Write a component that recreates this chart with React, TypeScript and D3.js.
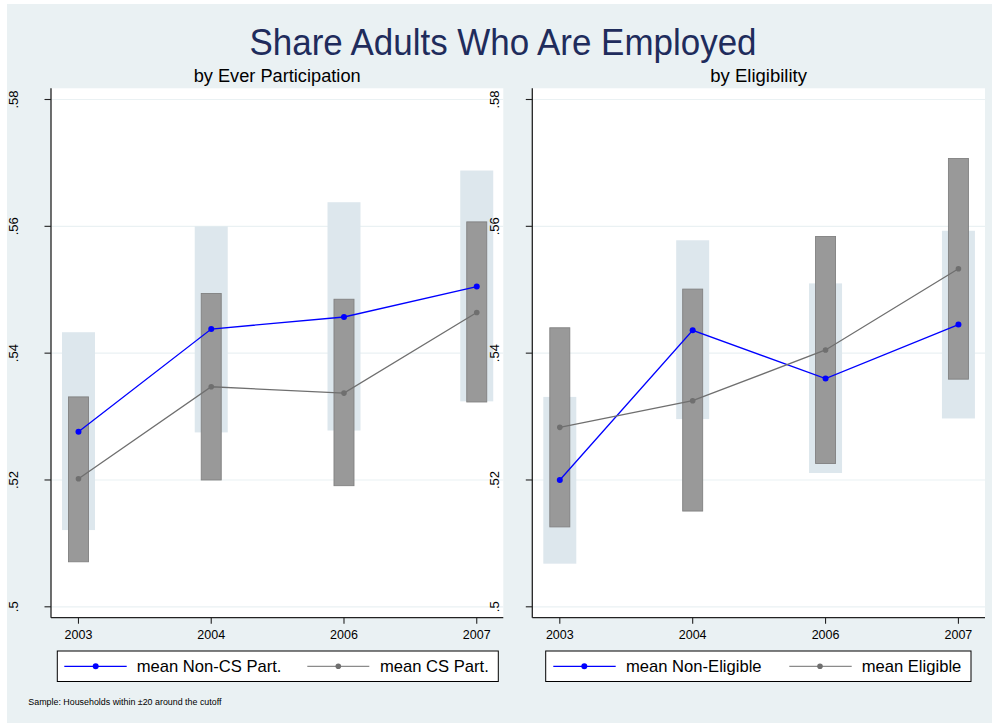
import React from "react";
import * as d3 from "d3";

const years = ["2003", "2004", "2006", "2007"];
const yTicks = [0.5, 0.52, 0.54, 0.56, 0.58];
const yTickLabels = [".5", ".52", ".54", ".56", ".58"];

// Left panel: by Ever Participation
const partNonMean = [0.5276, 0.5438, 0.5457, 0.5505];
const partNonLo = [0.5121, 0.5275, 0.5278, 0.5324];
const partNonHi = [0.5433, 0.56, 0.5638, 0.5688];
const partCsMean = [0.5202, 0.5347, 0.5337, 0.5464];
const partCsLo = [0.5071, 0.52, 0.5191, 0.5323];
const partCsHi = [0.5331, 0.5494, 0.5485, 0.5607];

// Right panel: by Eligibility
const eligNonMean = [0.52, 0.5436, 0.536, 0.5445];
const eligNonLo = [0.5068, 0.5296, 0.5211, 0.5297];
const eligNonHi = [0.5331, 0.5578, 0.551, 0.5593];
const eligMean = [0.5283, 0.5325, 0.5405, 0.5533];
const eligLo = [0.5126, 0.5151, 0.5226, 0.5359];
const eligHi = [0.544, 0.5501, 0.5584, 0.5707];

const title = "Share Adults Who Are Employed";
const subtitles = ["by Ever Participation", "by Eligibility"];
const legendLabels = [
  ["mean Non-CS Part.", "mean CS Part."],
  ["mean Non-Eligible", "mean Eligible"],
];
const footnote = "Sample: Households within \u00b120 around the cutoff";

const FONT = "'Liberation Sans', Arial, Helvetica, sans-serif";
const BG = "#eaf1f3";
const LIGHT = "#dde7ed";
const DARK = "#999999";
const DARK_STROKE = "#818181";
const BLUE = "#0000ff";
const GRAY = "#6f6f6f";

const plotTop = 88.3;
const plotBottom = 617.7;

const yScale = d3.scaleLinear().domain([0.5, 0.58]).range([606.8, 99.5]);

interface PanelProps {
  left: number;
  right: number;
  subtitle: string;
  subtitleLen: number;
  nonMean: number[];
  nonLo: number[];
  nonHi: number[];
  mean: number[];
  lo: number[];
  hi: number[];
  legend: string[];
  legendBox: [number, number];
  legendPos: { l1: [number, number]; m1: number; t1: number; l2: [number, number]; m2: number; t2: number };
}

function Panel(p: PanelProps) {
  const x = d3.scaleLinear().domain([-0.207, 3.2]).range([p.left, p.right]);
  const idx = years.map((_, i) => i);
  const mk = (vals: number[]) =>
    d3
      .line<number>()
      .x((i) => x(i))
      .y((i) => yScale(vals[i]))(idx) as string;
  const lightW = 33;
  const darkW = 20;
  const ly = 666.3;
  return (
    <g>
      <rect x={p.left} y={plotTop} width={p.right - p.left} height={plotBottom - plotTop} fill="#ffffff" />
      {yTicks.map((t, i) => (
        <g key={"g" + i}>
          <line x1={p.left} x2={p.right} y1={yScale(t)} y2={yScale(t)} stroke={BG} strokeWidth={1.2} />
          <line x1={p.left - 6.5} x2={p.left} y1={yScale(t)} y2={yScale(t)} stroke="#222" strokeWidth={1.1} />
          <text
            transform={`translate(${p.left - 33.3},${yScale(t)}) rotate(-90)`}
            textAnchor="middle"
            fontFamily={FONT}
            fontSize={13}
            fill="#000"
          >
            {yTickLabels[i]}
          </text>
        </g>
      ))}
      {idx.map((i) => (
        <rect
          key={"l" + i}
          x={x(i) - lightW / 2}
          y={yScale(p.nonHi[i])}
          width={lightW}
          height={yScale(p.nonLo[i]) - yScale(p.nonHi[i])}
          fill={LIGHT}
        />
      ))}
      {idx.map((i) => (
        <rect
          key={"d" + i}
          x={x(i) - darkW / 2}
          y={yScale(p.hi[i])}
          width={darkW}
          height={yScale(p.lo[i]) - yScale(p.hi[i])}
          fill={DARK}
          stroke={DARK_STROKE}
          strokeWidth={0.9}
        />
      ))}
      <path d={mk(p.nonMean)} fill="none" stroke={BLUE} strokeWidth={1.3} />
      <path d={mk(p.mean)} fill="none" stroke={GRAY} strokeWidth={1.3} />
      {idx.map((i) => (
        <circle key={"bm" + i} cx={x(i)} cy={yScale(p.nonMean[i])} r={3} fill={BLUE} />
      ))}
      {idx.map((i) => (
        <circle key={"gm" + i} cx={x(i)} cy={yScale(p.mean[i])} r={2.8} fill={GRAY} />
      ))}
      {/* axes */}
      <line x1={p.left} x2={p.left} y1={plotTop} y2={plotBottom} stroke="#222" strokeWidth={1.3} />
      <line x1={p.left} x2={p.right} y1={plotBottom} y2={plotBottom} stroke="#222" strokeWidth={1.3} />
      {idx.map((i) => (
        <g key={"xt" + i}>
          <line x1={x(i)} x2={x(i)} y1={plotBottom} y2={plotBottom + 6} stroke="#222" strokeWidth={1.1} />
          <text x={x(i)} y={639} textAnchor="middle" fontFamily={FONT} fontSize={12.5} fill="#000">
            {years[i]}
          </text>
        </g>
      ))}
      <text
        x={(p.left + p.right) / 2}
        y={81.7}
        textAnchor="middle"
        fontFamily={FONT}
        fontSize={17.5}
        textLength={p.subtitleLen}
        lengthAdjust="spacingAndGlyphs"
        fill="#000"
      >
        {p.subtitle}
      </text>
      {/* legend */}
      <rect
        x={p.legendBox[0]}
        y={651}
        width={p.legendBox[1] - p.legendBox[0]}
        height={30.5}
        fill="#ffffff"
        stroke="#000"
        strokeWidth={1}
      />
      <line x1={p.legendPos.l1[0]} x2={p.legendPos.l1[1]} y1={ly} y2={ly} stroke={BLUE} strokeWidth={1.3} />
      <circle cx={p.legendPos.m1} cy={ly} r={3} fill={BLUE} />
      <text x={p.legendPos.t1} y={672.3} fontFamily={FONT} fontSize={16.6} fill="#000">
        {p.legend[0]}
      </text>
      <line x1={p.legendPos.l2[0]} x2={p.legendPos.l2[1]} y1={ly} y2={ly} stroke={GRAY} strokeWidth={1.3} opacity={0.8} />
      <circle cx={p.legendPos.m2} cy={ly} r={2.8} fill={GRAY} />
      <text x={p.legendPos.t2} y={672.3} fontFamily={FONT} fontSize={16.6} fill="#000">
        {p.legend[1]}
      </text>
    </g>
  );
}

export default function App() {
  return (
    <svg
      width={994}
      height={723}
      style={{ position: "absolute", left: 0, top: 0, background: "#ffffff" }}
    >
      <rect x={7} y={4} width={985} height={719} fill={BG} />
      <text
        x={503}
        y={55}
        textAnchor="middle"
        fontFamily={FONT}
        fontSize={36}
        textLength={507}
        lengthAdjust="spacingAndGlyphs"
        fill="#1f2c5c"
      >
        {title}
      </text>
      <Panel
        left={51}
        right={503.3}
        subtitle={subtitles[0]}
        subtitleLen={167}
        nonMean={partNonMean}
        nonLo={partNonLo}
        nonHi={partNonHi}
        mean={partCsMean}
        lo={partCsLo}
        hi={partCsHi}
        legend={legendLabels[0]}
        legendBox={[57.3, 498.3]}
        legendPos={{ l1: [64.3, 126.7], m1: 95.7, t1: 136.7, l2: [307.3, 369.3], m2: 338.3, t2: 380 }}
      />
      <Panel
        left={532.3}
        right={985}
        subtitle={subtitles[1]}
        subtitleLen={96.7}
        nonMean={eligNonMean}
        nonLo={eligNonLo}
        nonHi={eligNonHi}
        mean={eligMean}
        lo={eligLo}
        hi={eligHi}
        legend={legendLabels[1]}
        legendBox={[545.7, 971]}
        legendPos={{ l1: [553.3, 615.7], m1: 584.3, t1: 626, l2: [789.3, 851.7], m2: 820, t2: 861.7 }}
      />
      <text x={28.3} y={705} fontFamily={FONT} fontSize={8.9} fill="#000">
        {footnote}
      </text>
    </svg>
  );
}
